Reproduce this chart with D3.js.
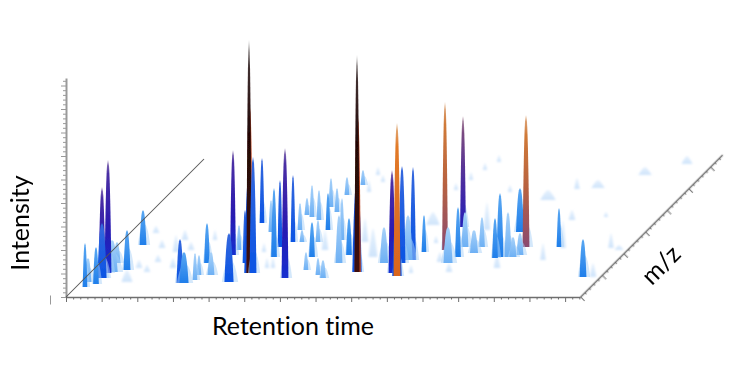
<!DOCTYPE html>
<html>
<head>
<meta charset="utf-8">
<script src="https://cdn.jsdelivr.net/npm/d3@7"></script>
<style>
  html, body { margin:0; padding:0; background:#fff; }
  text { font-family: Lato, "Open Sans", sans-serif; fill:#000; font-variant-ligatures:none; }
</style>
</head>
<body>
<div id="content"></div>
<script>
// values, all in axis units
const peakRt = [9,7,17,17,17,18,17,21,34,25,26,47,100,104,62,65,78,112,111,107,123,92,78,57,56,44,46,
    148,125,126,145,159,163,122,140,168,164,200,153,172,178,172,167,159,181,166,206,176,197,195,175,212,
    213,230,238,186,239,219,179,241,266,185,198,190,202,244,267,284,302,310,302,310,305,321,313,295,316,
    339,332,348,358,352,327,349,288,283,364,366,354,390,394,402,407,412,389,410,298,292,339,402,443,448,
    497,507,496,429,403,423,385,457,488,460,440,506];
const peakMz = [10,15,13,19,19,24,34,25,27,52,64,49,14,14,57,45,47,17,22,34,22,57,29,35,25,29,15,
    15,42,47,34,24,24,74,65,40,50,19,45,29,29,55,67,82,55,80,40,77,55,67,90,47,
    27,22,19,85,34,57,102,42,25,112,105,122,115,55,40,34,24,21,34,37,37,24,45,72,54,
    35,47,34,25,40,70,50,117,107,44,50,67,39,40,40,40,42,65,50,135,127,105,29,50,49,
    20,20,49,77,108,109,97,122,133,80,37,47];
const peakIntensity = [44,24,37,91,55,113,21,32,40,35,7,8,44,31,10,17,8,27,20,40,23,10,10,7,7,8,12,
    49,105,25,53,233,116,65,32,69,67,130,9,10,11,67,27,17,12,32,35,30,22,37,29,20,
    18,17,18,24,48,42,18,37,217,15,12,8,7,24,29,36,103,153,97,93,45,8,37,13,7,
    10,148,36,9,50,111,35,8,7,23,30,28,40,64,45,20,22,44,132,7,7,7,15,39,28,
    38,14,15,10,11,8,10,8,8,5,17,5];
const peakWidth = [4,6,5,6,8,6,6,10,6,6,6,6,6,8,6,6,6,4,4,5,6,4,6,6,6,6,10,
    8,5,4,4,6,6,4,4,5,4,6,4,4,4,4,4,4,4,4,5,4,4,4,4,6,
    4,4,5,4,6,4,4,5,6,4,4,4,4,6,8,7,6,6,6,5,8,4,4,12,4,
    6,5,8,6,5,5,6,4,4,7,5,6,5,6,6,6,6,7,6,4,4,4,6,4,5,
    6,6,5,6,5,12,14,12,10,4,5,8];
// intensity class 0 = faint ... 5 = saturated
const peakClass = [2,1,2,4,3,4,1,1,2,2,0,0,3,2,0,0,0,1,1,2,1,0,0,0,0,0,0,
    3,4,1,3,5,3,3,1,2,3,4,0,0,0,3,1,1,1,1,2,1,1,2,1,0,
    1,1,1,1,1,1,1,2,5,1,0,0,0,0,0,1,4,6,3,3,1,0,2,0,0,
    0,7,1,0,2,8,1,0,0,1,1,0,2,2,1,1,1,2,7,0,0,0,0,2,0,
    2,0,0,0,0,0,0,0,0,0,0,0];

const classColors = [
    [["0%","#e6f1fd"],["100%","#cfe4fb"]],
    [["0%","#a9d2f9"],["100%","#6db0f4"]],
    [["0%","#5aa8f2"],["100%","#1f7eea"]],
    [["0%","#3568dd"],["100%","#0a54e4"]],
    [["0%","#9a85b8"],["12%","#4a2fa4"],["60%","#2a1ab0"],["100%","#1430d0"]],
    [["0%","#b0b0b0"],["12%","#403030"],["40%","#220606"],["100%","#3e0c08"]],
    [["0%","#e0b890"],["15%","#e27a28"],["100%","#d9651e"]],
    [["0%","#e0b08a"],["15%","#d07a38"],["55%","#b86240"],["100%","#8a4a70"]],
    [["0%","#bba0b0"],["15%","#7a4a80"],["60%","#4a2ca0"],["100%","#2420b8"]]
];

const W = 744, H = 372;
const origin = { x:66, y:297 };
const rtLen = 514, mzLen = 142, intLen = 219;

const xRt = d3.scaleLinear().domain([0, 514]).range([0, rtLen]);
const mzShift = d3.scaleLinear().domain([0, 142]).range([0, mzLen]);
const yInt = d3.scaleLinear().domain([0, 219]).range([0, intLen]);
const colorIndex = d3.scaleOrdinal().domain(d3.range(classColors.length)).range(classColors.map((c,i)=>"url(#class"+i+")"));

const svg = d3.select("#content").append("svg")
    .attr("width", W)
    .attr("height", H)
    .style("display", "block");

const defs = svg.append("defs");
classColors.forEach( (stops,i) => {
    const g = defs.append("linearGradient").attr("id","class"+i)
        .attr("x1",0).attr("y1",0).attr("x2",0).attr("y2",1);
    stops.forEach( s => g.append("stop").attr("offset",s[0]).attr("stop-color",s[1]) );
});
const addBlur = (id, dev) => defs.append("filter").attr("id",id)
    .attr("x","-40%").attr("y","-40%").attr("width","180%").attr("height","180%")
    .append("feGaussianBlur").attr("stdDeviation",dev);
addBlur("soft", 0.7);
addBlur("softer", 1.1);
addBlur("softAxis", 0.3);

svg.append("rect").attr("width",W).attr("height",H).attr("fill","#fff");

const peaks = peakRt.map( (rt,i) => ({
    rt: rt, mz: peakMz[i], intensity: peakIntensity[i], width: peakWidth[i], cls: peakClass[i]
}));
// back of the floor first
peaks.sort( (a,b) => b.mz - a.mz );

const profile = d3.range(0, 1.001, 0.05);
// half width stays close to full until near the tip
const peakArea = (p, widen, hFrac, dx) => {
    const cx = xRt(p.rt) + mzShift(p.mz) + dx;
    const h = yInt(p.intensity) * hFrac;
    const half = xRt(p.width) / 2 * widen * (p.cls==0 ? 1 : 1.2);
    const pow = p.cls==0 ? 0.7 : 0.42;
    return d3.area()
        .y( u => -mzShift(p.mz) - h*u )
        .x0( u => cx - half*Math.pow(1-u, pow) )
        .x1( u => cx + half*Math.pow(1-u, pow) )(profile);
};

const floor = svg.append("g")
    .attr("transform","translate("+origin.x+","+origin.y+")");
const faint = floor.append("g").attr("filter","url(#softer)");
const body = floor.append("g").attr("filter","url(#soft)");

peaks.forEach( p => {
    if( p.cls==0 ){
        faint.append("path")
            .attr("d", peakArea(p, 1.1, 1, 0))
            .attr("fill", colorIndex(0));
        return;
    }
    // pale skirt around the foot, short whatever the peak height
    body.append("path")
        .attr("d", peakArea(p, 1.7, Math.min(0.6, 22/p.intensity), 1))
        .attr("fill","#a9d2f8")
        .attr("opacity",0.5);
    if( p.cls==5 || p.cls==6 ){
        // blue body behind the tallest peaks
        body.append("path")
            .attr("d", peakArea(p, 1.3, 0.42, 0))
            .attr("fill","#0f50dc");
    }
    if( p.cls==5 ){
        body.append("path")
            .attr("d", peakArea(p, 0.85, 0.72, 0.8))
            .attr("fill","#b8431f");
    }
    body.append("path")
        .attr("d", peakArea(p, p.cls==5 ? 0.7 : 0.95, 1, 0))
        .attr("fill", colorIndex(p.cls));
});

//////////////////// axes
const ticksEvery = (step, max) => d3.range(0, max+0.01, step);
const styleAxis = (g, color, width) => {
    g.select(".domain").attr("stroke",color).attr("stroke-width",width);
    g.selectAll(".tick line").attr("stroke",color);
    g.selectAll(".tick text").remove();
};
const longTicks = (g, every, len, sign, attr) => {
    g.selectAll(".tick line").filter( (d,i) => i%every==0 ).attr(attr, sign*len);
};

const yScale = d3.scaleLinear().domain([0,219]).range([origin.y,origin.y-intLen]);
const yAxis = svg.append("g")
    .attr("transform","translate("+origin.x+",0)")
    .attr("filter","url(#softAxis)")
    .call( d3.axisLeft(yScale).tickValues(ticksEvery(4.7,219)).tickSize(3).tickSizeOuter(0) );
styleAxis(yAxis, "#9a9a9a", 2);
longTicks(yAxis, 5, 5, -1, "x2");

const xScale = d3.scaleLinear().domain([0,514]).range([origin.x,origin.x+rtLen]);
const xAxis = svg.append("g")
    .attr("transform","translate(0,"+origin.y+")")
    .attr("filter","url(#softAxis)")
    .call( d3.axisBottom(xScale).tickValues(ticksEvery(7.13,514)).tickSize(2.5).tickSizeOuter(0) );
styleAxis(xAxis, "#6e6e6e", 1.6);
longTicks(xAxis, 5, 5, 1, "y2");

const mzAxisScale = d3.scaleLinear().domain([0,142]).range([0,mzLen*Math.SQRT2]);
const mzAxis = svg.append("g")
    .attr("transform","translate("+(origin.x+rtLen)+","+origin.y+") rotate(-45)")
    .attr("filter","url(#softAxis)")
    .call( d3.axisBottom(mzAxisScale).tickValues(ticksEvery(4.33,142)).tickSize(2.5).tickSizeOuter(0) );
styleAxis(mzAxis, "#6e6e6e", 1.6);
longTicks(mzAxis, 5, 6, 1, "y2");

// rt = 0 line across the floor
svg.append("g")
    .attr("transform","translate("+origin.x+","+origin.y+") rotate(-45)")
    .append("line")
    .attr("x2", mzAxisScale(138))
    .attr("stroke","#555")
    .attr("stroke-width",1);

// stray mark left of the origin
svg.append("g")
    .attr("transform","translate(50,0)")
    .call( d3.axisLeft(d3.scaleLinear().domain([0,1]).range([304,295])).tickValues([]).tickSize(0) )
    .select(".domain").attr("stroke","#999").attr("stroke-width",1);

//////////////////// labels
svg.append("text")
    .attr("x",293).attr("y",335)
    .attr("text-anchor","middle")
    .style("font-size","25px")
    .text("Retention time");
svg.append("text")
    .attr("transform","translate(29,223) rotate(-90)")
    .attr("text-anchor","middle")
    .style("font-size","25px")
    .text("Intensity");
svg.append("text")
    .attr("transform","translate(667,271) rotate(-45)")
    .attr("text-anchor","middle")
    .style("font-size","25px")
    .text("m/z");
</script>
</body>
</html>
